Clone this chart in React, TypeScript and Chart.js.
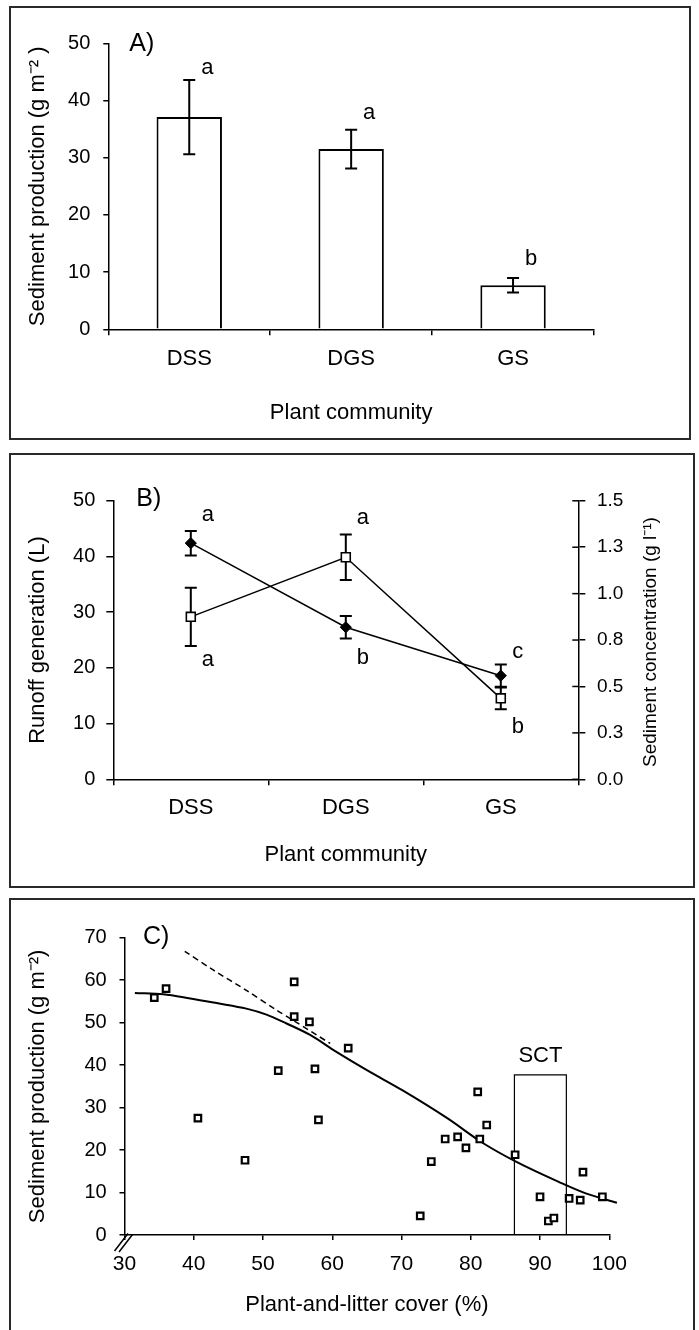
import React, { useEffect, useRef } from 'react';
import { Chart, registerables } from 'chart.js';

Chart.register(...registerables);

const FONT = "'Liberation Sans', Arial, Helvetica, sans-serif";
const INK = '#000';

// ---------- Panel A : sediment production by plant community ----------
const communities = ['DSS', 'DGS', 'GS'];
const sedimentProduction = [37.1, 31.5, 7.7];
const sedimentProductionErr = [6.5, 3.4, 1.25];
const sedimentLetters = ['a', 'a', 'b'];
const sedimentLetterY = [44.6, 36.8, 11.3];

// ---------- Panel B : runoff and sediment concentration ----------
const runoff = [42.4, 27.3, 18.6];
const runoffErr = [2.2, 2.0, 2.0];
const runoffLetters = ['a', 'b', 'c'];
const runoffLetterY = [46.4, 20.7, 21.7];
const concentration = [0.875, 1.196, 0.436];
const concentrationErr = [0.157, 0.123, 0.059];
const concLetters = ['a', 'a', 'b'];
const concLetterY = [0.609, 1.374, 0.252];
const concTickLabels = ['0.0', '0.3', '0.5', '0.8', '1.0', '1.3', '1.5'];

// ---------- Panel C : sediment production vs plant-and-litter cover ----------
const coverX = [34.3, 36.0, 40.6, 47.4, 52.2, 54.5, 54.5, 56.7, 57.5, 58.0, 62.3, 72.7, 74.3, 76.3, 78.1, 79.3, 81.0, 81.3, 82.3, 86.4, 90.0, 91.2, 92.0, 94.2, 95.8, 96.2, 99.0];
const coverY = [55.9, 58.0, 27.5, 17.6, 38.7, 59.6, 51.4, 50.2, 39.1, 27.1, 44.0, 4.5, 17.3, 22.6, 23.1, 20.5, 33.7, 22.6, 25.9, 18.9, 9.0, 3.3, 4.0, 8.6, 8.2, 14.8, 9.0];
const fitX = [31.5, 35.6, 39.5, 43.3, 47.6, 50.5, 53.4, 56.8, 60.6, 65.0, 70.1, 76.6, 81.8, 86.6, 92.7, 96.6, 101.1];
const fitY = [57.0, 56.7, 55.7, 54.6, 53.3, 51.9, 49.8, 47.1, 43.1, 38.8, 34.1, 27.5, 21.6, 17.2, 12.5, 9.8, 7.6];
const dashX = [38.7, 42.8, 47.6, 52.0, 54.5, 59.7];
const dashY = [66.8, 62.4, 57.6, 52.9, 50.4, 45.1];
const sctBoxX = [86.3, 86.3, 93.8, 93.8];
const sctBoxY = [0, 37.7, 37.7, 0];
const sctLabel = 'SCT';
const sctLabelX = 90.05;
const sctLabelY = 40.8;

function drawText(
  ctx: CanvasRenderingContext2D,
  s: string,
  x: number,
  y: number,
  size: number,
  align: CanvasTextAlign = 'center',
  baseline: CanvasTextBaseline = 'alphabetic'
) {
  ctx.save();
  ctx.font = `${size}px ${FONT}`;
  ctx.fillStyle = INK;
  ctx.textAlign = align;
  ctx.textBaseline = baseline;
  ctx.fillText(s, x, y);
  ctx.restore();
}

type ErrSpec = { datasetIndex: number; axis: string; errors: number[] };

function errorBars(id: string, layer: 'before' | 'after', series: ErrSpec[], capHalf = 6, lw = 2) {
  const draw = (chart: any) => {
    const ctx: CanvasRenderingContext2D = chart.ctx;
    ctx.save();
    ctx.strokeStyle = INK;
    ctx.lineWidth = lw;
    series.forEach((s) => {
      const meta = chart.getDatasetMeta(s.datasetIndex);
      const scale = chart.scales[s.axis];
      const vals = chart.data.datasets[s.datasetIndex].data as number[];
      meta.data.forEach((el: any, i: number) => {
        const x = el.x;
        const yt = scale.getPixelForValue(vals[i] + s.errors[i]);
        const yb = scale.getPixelForValue(vals[i] - s.errors[i]);
        ctx.beginPath();
        ctx.moveTo(x, yt);
        ctx.lineTo(x, yb);
        ctx.moveTo(x - capHalf, yt);
        ctx.lineTo(x + capHalf, yt);
        ctx.moveTo(x - capHalf, yb);
        ctx.lineTo(x + capHalf, yb);
        ctx.stroke();
      });
    });
    ctx.restore();
  };
  return layer === 'before' ? { id, beforeDatasetsDraw: draw } : { id, afterDatasetsDraw: draw };
}

const border = { display: true, color: INK, width: 1.5 };
function grid(tickLength: number, offset = false) {
  return { display: true, offset, drawOnChartArea: false, drawTicks: true, tickLength, color: INK, lineWidth: 1.5 };
}
const noPlugins = { legend: { display: false }, tooltip: { enabled: false } };

function configA(): any {
  const annot = {
    id: 'annotA',
    afterDraw(chart: any) {
      const { ctx, chartArea, scales } = chart;
      drawText(ctx, 'A)', chartArea.left + 21, chartArea.top + 1, 25, 'left', 'middle');
      chart.getDatasetMeta(0).data.forEach((el: any, i: number) => {
        drawText(ctx, sedimentLetters[i], el.x + 18, scales.y.getPixelForValue(sedimentLetterY[i]), 22);
      });
    },
  };
  return {
    type: 'bar',
    data: {
      labels: communities,
      datasets: [
        {
          data: sedimentProduction,
          backgroundColor: '#fff',
          borderColor: INK,
          borderWidth: 2,
          barPercentage: 0.404,
          categoryPercentage: 1,
        },
      ],
    },
    options: {
      responsive: false,
      animation: false,
      events: [],
      layout: { padding: { top: 43.3, right: 105, bottom: 0, left: 0 } },
      plugins: noPlugins,
      scales: {
        x: {
          offset: true,
          grid: grid(6, true),
          border,
          ticks: { padding: 10, color: INK, font: { size: 22 } },
          title: { display: true, text: 'Plant community', color: INK, font: { size: 22 }, padding: { top: 0, bottom: 13.5 } },
          afterFit: (s: any) => { s.height = 110.7; },
        },
        y: {
          min: 0,
          max: 50,
          grid: grid(5),
          border,
          ticks: { stepSize: 10, padding: 13, color: INK, font: { size: 20 } },
          title: { display: true, text: 'Sediment production (g m⁻² )', color: INK, font: { size: 22 }, padding: { top: 25, bottom: 0 } },
          afterFit: (s: any) => { s.width = 108.3; },
        },
      },
    },
    plugins: [errorBars('errA', 'after', [{ datasetIndex: 0, axis: 'y', errors: sedimentProductionErr }]), annot],
  };
}

function configB(): any {
  const annot = {
    id: 'annotB',
    afterDraw(chart: any) {
      const { ctx, chartArea, scales } = chart;
      drawText(ctx, 'B)', chartArea.left + 23, chartArea.top - 2, 25, 'left', 'middle');
      chart.getDatasetMeta(0).data.forEach((el: any, i: number) => {
        drawText(ctx, runoffLetters[i], el.x + 17, scales.y.getPixelForValue(runoffLetterY[i]), 22);
      });
      chart.getDatasetMeta(1).data.forEach((el: any, i: number) => {
        drawText(ctx, concLetters[i], el.x + 17, scales.y1.getPixelForValue(concLetterY[i]), 22);
      });
      const r = scales.y1;
      ctx.save();
      ctx.strokeStyle = INK;
      ctx.lineWidth = 1.5;
      r.ticks.forEach((t: any) => {
        const y = r.getPixelForValue(t.value);
        ctx.beginPath();
        ctx.moveTo(r.left - 6, y);
        ctx.lineTo(r.left, y);
        ctx.stroke();
      });
      ctx.restore();
      ctx.save();
      ctx.translate(r.right - 48.3, (chartArea.top + chartArea.bottom) / 2 + 2);
      ctx.rotate(-Math.PI / 2);
      drawText(ctx, 'Sediment concentration (g l⁻¹)', 0, 0, 19, 'center', 'middle');
      ctx.restore();
    },
  };
  return {
    type: 'line',
    data: {
      labels: communities,
      datasets: [
        {
          label: 'Runoff generation',
          data: runoff,
          yAxisID: 'y',
          borderColor: INK,
          borderWidth: 1.5,
          tension: 0,
          fill: false,
          pointStyle: 'rectRot',
          pointRadius: 5.6,
          pointBackgroundColor: INK,
          pointBorderColor: INK,
          pointBorderWidth: 1,
        },
        {
          label: 'Sediment concentration',
          data: concentration,
          yAxisID: 'y1',
          borderColor: INK,
          borderWidth: 1.5,
          tension: 0,
          fill: false,
          pointStyle: 'rect',
          pointRadius: 6.3,
          pointBackgroundColor: '#fff',
          pointBorderColor: INK,
          pointBorderWidth: 1.6,
        },
      ],
    },
    options: {
      responsive: false,
      animation: false,
      events: [],
      layout: { padding: { top: 55.8, right: 0, bottom: 0, left: 0 } },
      plugins: noPlugins,
      scales: {
        x: {
          offset: true,
          grid: grid(6, true),
          border,
          ticks: { padding: 9.8, color: INK, font: { size: 22 } },
          title: { display: true, text: 'Plant community', color: INK, font: { size: 22 }, padding: { top: 0, bottom: 21.8 } },
          afterFit: (s: any) => { s.height = 110.7; },
        },
        y: {
          position: 'left',
          min: 0,
          max: 50,
          grid: grid(7),
          border,
          ticks: { stepSize: 10, padding: 11, color: INK, font: { size: 20 } },
          title: { display: true, text: 'Runoff generation (L)', color: INK, font: { size: 22 }, padding: { top: 25, bottom: 0 } },
          afterFit: (s: any) => { s.width = 113.3; },
        },
        y1: {
          position: 'right',
          min: 0,
          max: 1.5,
          grid: grid(7),
          border,
          ticks: {
            stepSize: 0.25,
            padding: 11.7,
            color: INK,
            font: { size: 19 },
            callback: (_v: any, i: number) => concTickLabels[i],
          },
          afterFit: (s: any) => { s.width = 120.7; },
        },
      },
    },
    plugins: [
      errorBars('errB', 'before', [
        { datasetIndex: 0, axis: 'y', errors: runoffErr },
        { datasetIndex: 1, axis: 'y1', errors: concentrationErr },
      ]),
      annot,
    ],
  };
}

function configC(): any {
  const annot = {
    id: 'annotC',
    afterDraw(chart: any) {
      const { ctx, chartArea, scales } = chart;
      drawText(ctx, 'C)', chartArea.left + 18.5, chartArea.top - 1, 25, 'left', 'middle');
      drawText(ctx, sctLabel, scales.x.getPixelForValue(sctLabelX), scales.y.getPixelForValue(sctLabelY), 22);
      const x0 = scales.x.getPixelForValue(30);
      const y0 = scales.y.getPixelForValue(0);
      ctx.save();
      ctx.strokeStyle = INK;
      ctx.lineWidth = 1.5;
      ctx.beginPath();
      ctx.moveTo(x0 - 10, y0 + 16);
      ctx.lineTo(x0 + 3.5, y0 - 1.5);
      ctx.moveTo(x0 - 5.5, y0 + 17);
      ctx.lineTo(x0 + 8, y0 - 0.5);
      ctx.stroke();
      ctx.restore();
    },
  };
  const lineDs = (xs: number[], ys: number[], extra: any) => ({
    data: xs.map((x, i) => ({ x, y: ys[i] })),
    showLine: true,
    pointRadius: 0,
    borderColor: INK,
    fill: false,
    clip: false,
    ...extra,
  });
  return {
    type: 'scatter',
    data: {
      datasets: [
        {
          data: coverX.map((x, i) => ({ x, y: coverY[i] })),
          pointStyle: 'rect',
          pointRadius: 4.6,
          pointBackgroundColor: '#fff',
          pointBorderColor: INK,
          pointBorderWidth: 2.2,
          showLine: false,
        },
        lineDs(fitX, fitY, { borderWidth: 2, tension: 0.4, cubicInterpolationMode: 'monotone' }),
        lineDs(dashX, dashY, { borderWidth: 1.5, borderDash: [6, 4], tension: 0.3 }),
        lineDs(sctBoxX, sctBoxY, { borderWidth: 1.2, tension: 0 }),
      ],
    },
    options: {
      responsive: false,
      animation: false,
      events: [],
      layout: { padding: { top: 42.7, right: 89.7, bottom: 0, left: 0 } },
      plugins: noPlugins,
      scales: {
        x: {
          type: 'linear',
          min: 30,
          max: 100,
          grid: grid(5),
          border,
          ticks: { stepSize: 10, padding: 11.7, color: INK, font: { size: 21 } },
          title: { display: true, text: 'Plant-and-litter cover (%)', color: INK, font: { size: 22 }, padding: { top: 0, bottom: 11.8 } },
          afterFit: (s: any) => { s.height = 95; },
        },
        y: {
          min: 0,
          max: 70,
          grid: grid(5),
          border,
          ticks: { stepSize: 10, padding: 12.8, color: INK, font: { size: 20 } },
          title: { display: true, text: 'Sediment production (g m⁻²)', color: INK, font: { size: 22 }, padding: { top: 25, bottom: 0 } },
          afterFit: (s: any) => { s.width = 124.5; },
        },
      },
    },
    plugins: [annot],
  };
}

const boxBase: React.CSSProperties = {
  position: 'absolute',
  boxSizing: 'border-box',
  border: '2px solid #2a2a2a',
};

export default function App() {
  const refA = useRef<HTMLCanvasElement>(null);
  const refB = useRef<HTMLCanvasElement>(null);
  const refC = useRef<HTMLCanvasElement>(null);

  useEffect(() => {
    Chart.defaults.font.family = FONT;
    Chart.defaults.color = INK;
    const a = new Chart(refA.current as HTMLCanvasElement, configA());
    const b = new Chart(refB.current as HTMLCanvasElement, configB());
    const c = new Chart(refC.current as HTMLCanvasElement, configC());
    return () => {
      a.destroy();
      b.destroy();
      c.destroy();
    };
  }, []);

  return (
    <div>
      <div style={{ ...boxBase, left: 9, top: 6, width: 682, height: 434 }} />
      <div style={{ ...boxBase, left: 9, top: 453, width: 686, height: 435 }} />
      <div style={{ ...boxBase, left: 9, top: 898, width: 686, height: 432, borderBottom: 'none' }} />
      <canvas ref={refA} width={699} height={440} style={{ position: 'absolute', left: 0, top: 0 }} />
      <canvas ref={refB} width={699} height={445} style={{ position: 'absolute', left: 0, top: 445 }} />
      <canvas ref={refC} width={699} height={435} style={{ position: 'absolute', left: 0, top: 895 }} />
    </div>
  );
}
